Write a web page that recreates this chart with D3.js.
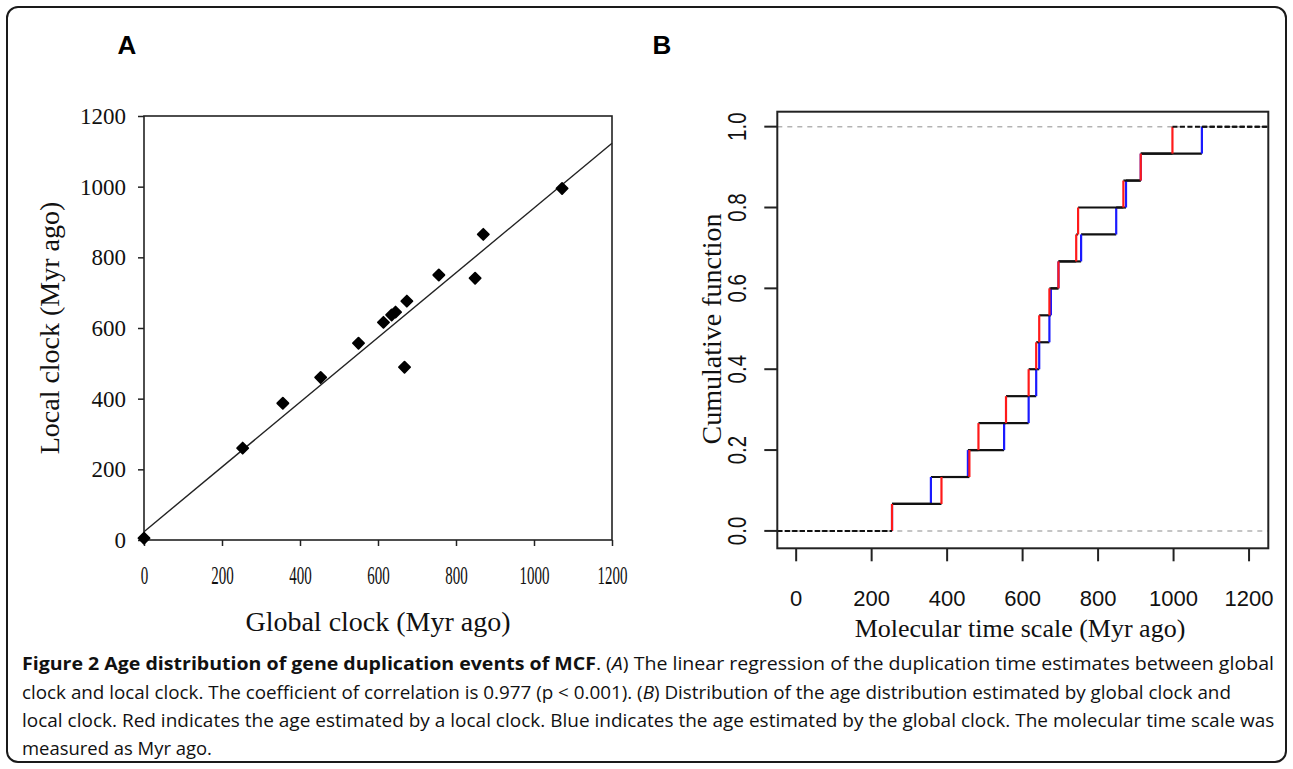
<!DOCTYPE html>
<html><head><meta charset="utf-8">
<script src="https://cdn.jsdelivr.net/npm/d3@7"></script>
<style>body{margin:0;background:#fff} svg{display:block}</style>
</head><body>
<svg id="chart" width="1293" height="769"></svg>
<script>
// ---------- Panel A data (scatter: global vs local clock, Myr ago) ----------
const globalClock = [0, 253, 356, 453, 550, 614, 635, 645, 668, 674, 756, 849, 870, 1072];
const localClock  = [5, 260, 387, 460, 557, 616, 637, 645, 489, 676, 750, 741, 865, 995];
const regressionIntercept = 23.5;
const regressionSlope = 0.916;
const ticksA = [0, 200, 400, 600, 800, 1000, 1200];

// ---------- Panel B data (empirical cumulative distributions) ----------
const localAges  = [254, 385, 459, 483, 556, 616, 636, 644, 671, 695, 742, 747, 867, 913, 997];
const globalAges = [254, 357, 455, 551, 616, 636, 644, 671, 675, 695, 755, 848, 874, 913, 1075];
const xTicksB = [0, 200, 400, 600, 800, 1000, 1200];
const yTicksB = [0, 0.2, 0.4, 0.6, 0.8, 1.0];

// ---------- Caption ----------
const captionLines = [
  [{t:"Figure 2 Age distribution of gene duplication events of MCF", b:1}, {t:". ("}, {t:"A", i:1}, {t:") The linear regression of the duplication time estimates between global"}],
  [{t:"clock and local clock. The coefficient of correlation is 0.977 (p < 0.001). ("}, {t:"B", i:1}, {t:") Distribution of the age distribution estimated by global clock and"}],
  [{t:"local clock. Red indicates the age estimated by a local clock. Blue indicates the age estimated by the global clock. The molecular time scale was"}],
  [{t:"measured as Myr ago."}]
];
const captionWidths = [1253, 1210, 1253, 190];

const svg = d3.select("#chart");
const serif = "'Liberation Serif','DejaVu Serif',serif";
const sans = "'Liberation Sans',Arial,sans-serif";

// outer rounded frame
svg.append("rect").attr("x",7).attr("y",7).attr("width",1279).attr("height",755)
  .attr("rx",11).attr("fill","none").attr("stroke","#1a1a1a").attr("stroke-width",2);

// panel letters
svg.append("text").attr("x",127).attr("y",54).attr("text-anchor","middle")
  .attr("font-family",sans).attr("font-weight","bold").attr("font-size",26).text("A");
svg.append("text").attr("x",662).attr("y",54).attr("text-anchor","middle")
  .attr("font-family",sans).attr("font-weight","bold").attr("font-size",26).text("B");

// ================= Panel A =================
const xA = d3.scaleLinear().domain([0,1200]).range([144,612]);
const yA = d3.scaleLinear().domain([0,1200]).range([540,116]);
const gA = svg.append("g");

gA.append("rect").attr("x",xA(0)).attr("y",yA(1200))
  .attr("width",xA(1200)-xA(0)).attr("height",yA(0)-yA(1200))
  .attr("fill","none").attr("stroke","#222").attr("stroke-width",1.6);

const axLA = gA.append("g").attr("transform",`translate(${xA(0)},0)`)
  .call(d3.axisLeft(yA).tickValues(ticksA).tickFormat(d3.format("d")).tickSize(6).tickSizeOuter(0).tickPadding(12));
const axBA = gA.append("g").attr("transform",`translate(0,${yA(0)})`)
  .call(d3.axisBottom(xA).tickValues(ticksA).tickFormat(d3.format("d")).tickSize(6).tickSizeOuter(0).tickPadding(20));
[axLA, axBA].forEach(a => {
  a.select(".domain").remove();
  a.selectAll("line").attr("stroke","#222").attr("stroke-width",1.5);
  a.selectAll("text").attr("font-family",serif).attr("font-size",23).attr("fill","#111");
});
// bottom labels are taller and narrower in the original
axBA.selectAll("text").attr("font-size",25).each(function(){
  const w = this.getComputedTextLength();
  d3.select(this).attr("textLength", w*0.6).attr("lengthAdjust","spacingAndGlyphs");
});

// regression line
gA.append("line")
  .attr("x1",xA(0)).attr("y1",yA(regressionIntercept))
  .attr("x2",xA(1200)).attr("y2",yA(regressionIntercept + regressionSlope*1200))
  .attr("stroke","#222").attr("stroke-width",1.4);

// points
const pts = globalClock.map((g,i)=>({g, l:localClock[i]}));
gA.selectAll("path.pt").data(pts).enter().append("path").attr("class","pt")
  .attr("d", d3.symbol().type(d3.symbolSquare).size(62))
  .attr("transform", d=>`translate(${xA(d.g)},${yA(d.l)}) rotate(45)`)
  .attr("fill","#000").attr("stroke","#000").attr("stroke-width",1.8).attr("stroke-linejoin","round");

// axis titles
gA.append("text").attr("x",(xA(0)+xA(1200))/2).attr("y",631).attr("text-anchor","middle")
  .attr("font-family",serif).attr("font-size",28).attr("fill","#111").text("Global clock (Myr ago)");
gA.append("text").attr("transform",`translate(59,${(yA(0)+yA(1200))/2}) rotate(-90)`)
  .attr("text-anchor","middle").attr("font-family",serif).attr("font-size",28).attr("fill","#111")
  .text("Local clock (Myr ago)");

// ================= Panel B =================
const xB = d3.scaleLinear().domain([-50,1251]).range([777.3,1268.3]);
const yB = d3.scaleLinear().domain([-0.043,1.037]).range([548.3,111.7]);
const gB = svg.append("g");
const [x0,x1] = xB.domain(), [y0,y1] = yB.domain();

// reference lines at 0 and 1
gB.selectAll("line.ref").data([0,1]).enter().append("line")
  .attr("x1",xB(x0)).attr("x2",xB(x1)).attr("y1",d=>yB(d)).attr("y2",d=>yB(d))
  .attr("stroke","#b3b3b3").attr("stroke-width",1.5).attr("stroke-dasharray","5,5");

function drawEcdf(vals, color){
  const n = vals.length;
  const hs = d3.range(n-1).map(i=>({xa:vals[i], xb:vals[i+1], y:(i+1)/n}));
  gB.selectAll(null).data(hs).enter().append("line")
    .attr("x1",d=>xB(d.xa)).attr("x2",d=>xB(d.xb)).attr("y1",d=>yB(d.y)).attr("y2",d=>yB(d.y))
    .attr("stroke","#111").attr("stroke-width",2.2);
  gB.selectAll(null).data(vals).enter().append("line")
    .attr("x1",d=>xB(d)).attr("x2",d=>xB(d)).attr("y1",(d,i)=>yB(i/n)).attr("y2",(d,i)=>yB((i+1)/n))
    .attr("stroke",color).attr("stroke-width",2.2);
  // dashed extensions
  gB.append("line").attr("x1",xB(x0)).attr("x2",xB(vals[0])).attr("y1",yB(0)).attr("y2",yB(0))
    .attr("stroke","#111").attr("stroke-width",2).attr("stroke-dasharray","5,2.5");
  gB.append("line").attr("x1",xB(vals[n-1])).attr("x2",xB(x1)).attr("y1",yB(1)).attr("y2",yB(1))
    .attr("stroke","#111").attr("stroke-width",2).attr("stroke-dasharray","5,2.5");
}
drawEcdf(globalAges, "#1a1aff");
drawEcdf(localAges, "#ff1a1a");

// frame
gB.append("rect").attr("x",xB(x0)).attr("y",yB(y1))
  .attr("width",xB(x1)-xB(x0)).attr("height",yB(y0)-yB(y1))
  .attr("fill","none").attr("stroke","#222").attr("stroke-width",2);

// ticks
gB.selectAll("line.xt").data(xTicksB).enter().append("line")
  .attr("x1",d=>xB(d)).attr("x2",d=>xB(d)).attr("y1",yB(y0)).attr("y2",yB(y0)+13)
  .attr("stroke","#222").attr("stroke-width",2);
gB.selectAll("line.yt").data(yTicksB).enter().append("line")
  .attr("y1",d=>yB(d)).attr("y2",d=>yB(d)).attr("x1",xB(x0)).attr("x2",xB(x0)-13)
  .attr("stroke","#222").attr("stroke-width",2);
gB.selectAll("text.xl").data(xTicksB).enter().append("text")
  .attr("x",d=>xB(d)).attr("y",606).attr("text-anchor","middle")
  .attr("font-family",sans).attr("font-size",22).attr("fill","#111").text(d=>d);
gB.selectAll("text.yl").data(yTicksB).enter().append("text")
  .attr("transform",d=>`translate(746,${yB(d)}) rotate(-90)`).attr("text-anchor","middle")
  .attr("font-family",sans).attr("font-size",26).attr("fill","#111")
  .attr("textLength",28.5).attr("lengthAdjust","spacingAndGlyphs")
  .text(d=>d3.format(".1f")(d));

// titles
gB.append("text").attr("x",1020).attr("y",637).attr("text-anchor","middle")
  .attr("font-family",serif).attr("font-size",26).attr("fill","#111").text("Molecular time scale (Myr ago)");
gB.append("text").attr("transform",`translate(721,329) rotate(-90)`).attr("text-anchor","middle")
  .attr("font-family",serif).attr("font-size",28).attr("fill","#111").text("Cumulative function");

// ================= Caption =================
const capY = [670, 699, 727, 755];
const capG = svg.append("g");
captionLines.forEach((parts,k)=>{
  const t = capG.append("text").attr("x",22).attr("y",capY[k])
    .attr("font-family","'Open Sans',sans-serif").attr("font-size",18).attr("fill","#111");
  parts.forEach(p=>{
    const s = t.append("tspan").text(p.t);
    if(p.b) s.attr("font-weight","bold");
    if(p.i) s.attr("font-style","italic");
  });
  const s = captionWidths[k] / t.node().getComputedTextLength();
  t.attr("transform",`translate(22,0) scale(${s},1) translate(-22,0)`);
});
</script>
</body></html>
